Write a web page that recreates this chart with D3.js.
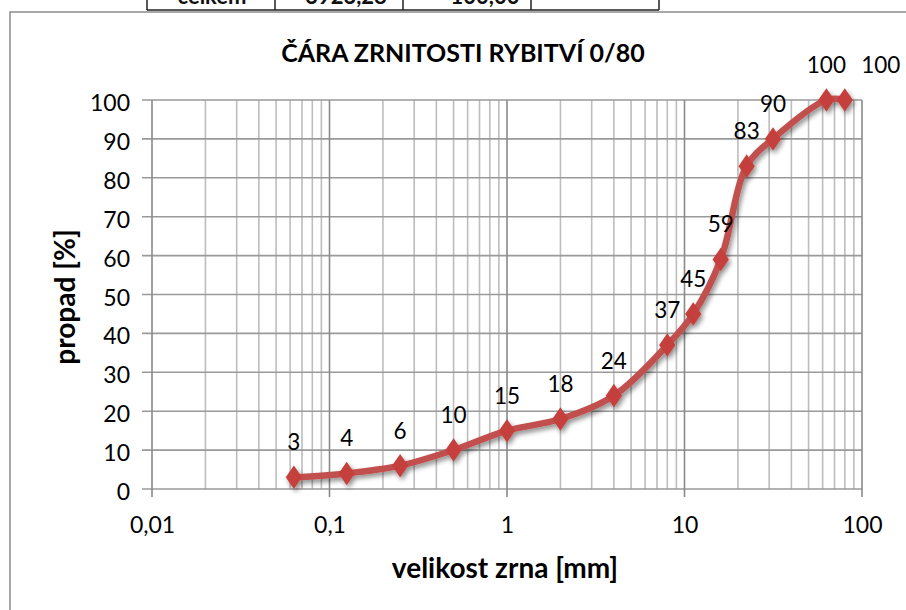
<!DOCTYPE html>
<html>
<head>
<meta charset="utf-8">
<script src="https://cdn.jsdelivr.net/npm/d3@7"></script>
<style>
  html, body { margin: 0; padding: 0; background: #fff; }
  svg { display: block; font-family: Lato, "Open Sans", sans-serif; }
</style>
</head>
<body>
<svg id="chart" width="906" height="610"></svg>
<script>
// Sieve sizes [mm] and cumulative passing [%]
const sieveSizes = [0.063, 0.125, 0.25, 0.5, 1, 2, 4, 8, 11.2, 16, 22.4, 31.5, 63, 80];
const passing    = [3, 4, 6, 10, 15, 18, 24, 37, 45, 59, 83, 90, 100, 100];

const xTickValues = [0.01, 0.1, 1, 10, 100];
const xTickLabels = ["0,01", "0,1", "1", "10", "100"];
const yTickValues = [0, 10, 20, 30, 40, 50, 60, 70, 80, 90, 100];

// Summary row of the table above the chart
const tableRow = ["celkem", "3923,28", "100,00", ""];

const titleText = "ČÁRA ZRNITOSTI RYBITVÍ 0/80";
const xTitle = "velikost zrna [mm]";
const yTitle = "propad [%]";

const svg = d3.select("#chart");
const plot = { left: 152, right: 862, top: 100, bottom: 489 };

const x = d3.scaleLog().domain([0.01, 100]).range([plot.left, plot.right]);
const y = d3.scaleLinear().domain([0, 100]).range([plot.bottom, plot.top]);

const red = "#C0504D";

// drop shadow for the series
const defs = svg.append("defs");
const f = defs.append("filter").attr("id", "shadow")
  .attr("x", "-20%").attr("y", "-20%").attr("width", "140%").attr("height", "140%");
f.append("feGaussianBlur").attr("in", "SourceAlpha").attr("stdDeviation", 2.5).attr("result", "b");
f.append("feOffset").attr("in", "b").attr("dx", 2).attr("dy", 3).attr("result", "o");
f.append("feComponentTransfer").attr("in", "o").attr("result", "s")
  .append("feFuncA").attr("type", "linear").attr("slope", 0.45);
const m = f.append("feMerge");
m.append("feMergeNode").attr("in", "s");
m.append("feMergeNode").attr("in", "SourceGraphic");

// table row above the chart
const cellEdges = [147, 275, 403, 531, 659];
const cellTextX = [212, 346, 485, 595];
const tbl = svg.append("g");
tbl.append("line").attr("x1", cellEdges[0]).attr("x2", cellEdges[4])
  .attr("y1", 10).attr("y2", 10).attr("stroke", "#222").attr("stroke-width", 1.5);
cellEdges.forEach(cx => tbl.append("line").attr("x1", cx).attr("x2", cx)
  .attr("y1", -2).attr("y2", 10).attr("stroke", "#222").attr("stroke-width", 1.5));
tbl.selectAll("text.cell").data(tableRow).join("text")
  .attr("x", (d, i) => cellTextX[i])
  .attr("y", 4)
  .attr("text-anchor", "middle")
  .attr("font-size", 22).attr("font-weight", 700).attr("fill", "#111")
  .text(d => d);

// chart frame
svg.append("rect").attr("x", 10).attr("y", 12).attr("width", 920).attr("height", 620)
  .attr("fill", "#fff").attr("stroke", "#8a8a8a").attr("stroke-width", 1.5);

// gridlines
const grid = svg.append("g");
const minorX = [];
for (let e = -2; e < 2; e++) for (let k = 2; k <= 9; k++) minorX.push(k * Math.pow(10, e));
grid.selectAll("line.minor").data(minorX).join("line")
  .attr("x1", d => x(d)).attr("x2", d => x(d))
  .attr("y1", plot.top).attr("y2", plot.bottom)
  .attr("stroke", "#bdbdbd").attr("stroke-width", 1.6);
grid.selectAll("line.h").data(yTickValues).join("line")
  .attr("x1", plot.left - 10).attr("x2", plot.right)
  .attr("y1", d => y(d)).attr("y2", d => y(d))
  .attr("stroke", "#9a9a9a").attr("stroke-width", 1.6);
grid.selectAll("line.major").data(xTickValues).join("line")
  .attr("x1", d => x(d)).attr("x2", d => x(d))
  .attr("y1", plot.top).attr("y2", plot.bottom + 8)
  .attr("stroke", "#8a8a8a").attr("stroke-width", 1.6);

// tick labels via d3 axes
const xAxis = d3.axisBottom(x).tickValues(xTickValues)
  .tickFormat((d, i) => xTickLabels[i]).tickSize(0).tickPadding(28);
const gx = svg.append("g").attr("transform", `translate(0,${plot.bottom})`).call(xAxis);
gx.select(".domain").remove();
gx.selectAll("text").attr("font-size", 23).attr("fill", "#000").attr("font-family", "Lato, sans-serif");

const yAxis = d3.axisLeft(y).tickValues(yTickValues).tickSize(0).tickPadding(22);
const gy = svg.append("g").attr("transform", `translate(${plot.left},0)`).call(yAxis);
gy.select(".domain").remove();
gy.selectAll("text").attr("font-size", 23).attr("fill", "#000")
  .attr("font-family", "Lato, sans-serif").attr("dy", "0.46em");

// titles
svg.append("text").attr("x", 463).attr("y", 62).attr("text-anchor", "middle")
  .attr("font-size", 25).attr("font-weight", 700).text(titleText);
svg.append("text").attr("x", 505).attr("y", 578).attr("text-anchor", "middle")
  .attr("font-size", 28).attr("font-weight", 700).text(xTitle);
svg.append("text").attr("transform", "translate(75,297) rotate(-90)").attr("text-anchor", "middle")
  .attr("font-size", 28).attr("font-weight", 700).text(yTitle);

// series
const pts = sieveSizes.map((s, i) => [x(s), y(passing[i])]);
const series = svg.append("g").attr("filter", "url(#shadow)");
series.append("path")
  .attr("d", d3.line().curve(d3.curveCatmullRom.alpha(0.5))(pts))
  .attr("fill", "none").attr("stroke", red).attr("stroke-width", 6.5)
  .attr("stroke-linejoin", "round").attr("stroke-linecap", "round");
series.selectAll("path.mk").data(pts).join("path")
  .attr("d", d3.symbol(d3.symbolDiamond, 160)())
  .attr("transform", d => `translate(${d[0]},${d[1]}) scale(1.2,1)`)
  .attr("fill", "#c5413e");

// value labels
svg.selectAll("text.val").data(passing).join("text")
  .attr("x", (d, i) => x(sieveSizes[i]) + (i === passing.length - 1 ? 36 : 0))
  .attr("y", d => y(d) - 27)
  .attr("text-anchor", "middle").attr("font-size", 22.5).attr("fill", "#000")
  .text(d => d);
</script>
</body>
</html>
